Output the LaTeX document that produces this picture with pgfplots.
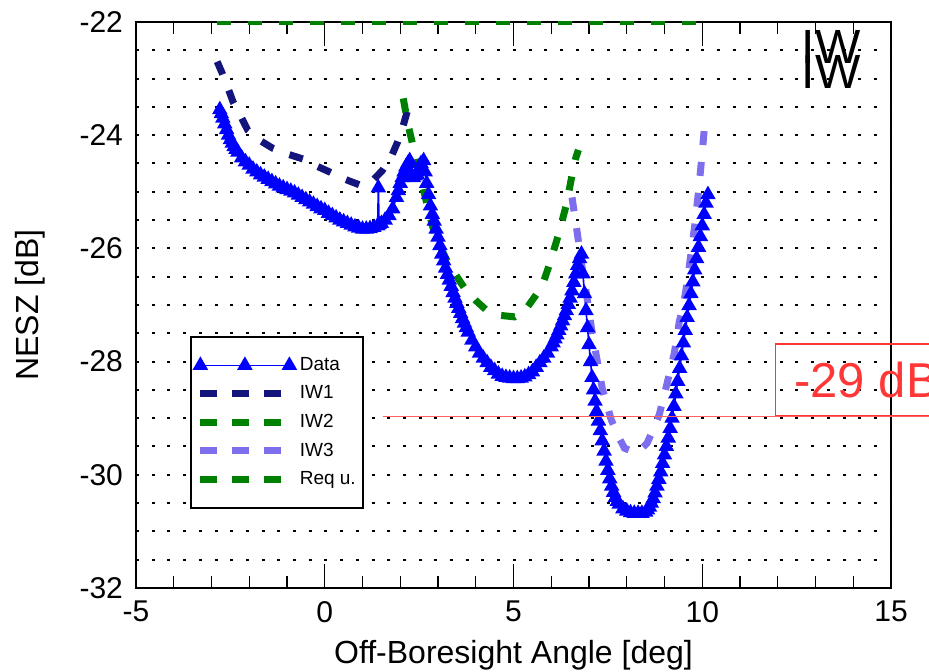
\documentclass[border=0pt]{standalone}
\usepackage{fontspec}
\setmainfont{Liberation Sans}
\usepackage{pgfplots}
\pgfplotsset{compat=1.18}

\definecolor{datablue}{RGB}{0,0,255}
\definecolor{iwone}{RGB}{20,20,125}
\definecolor{iwtwo}{RGB}{0,128,0}
\definecolor{iwthree}{RGB}{125,110,238}
\definecolor{annred}{RGB}{255,55,55}

\pgfplotsset{
  dashleg/.style={legend image code/.code={\draw[##1, dash pattern=on 8.5pt off 7.5pt] (0pt,0pt) -- (44.5pt,0pt);}},
  dataleg/.style={legend image code/.code={\draw[mark repeat=1,mark phase=1,##1] plot coordinates {(0pt,0pt) (22.25pt,0pt) (44.5pt,0pt)};}},
  thickdash/.style={line width=3.5pt, dash pattern=on 7pt off 8.5pt},
}

\begin{document}
\begin{tikzpicture}
\begin{axis}[
  scale only axis, width=377.5pt, height=283pt,
  xmin=-5, xmax=15, ymin=-32, ymax=-22,
  xtick={-5,0,5,10,15}, xticklabels={-5,0,5,10,15},
  minor x tick num=4,
  ytick={-32,-31.5,...,-22},
  yticklabels={-32,,,,-30,,,,-28,,,,-26,,,,-24,,,,-22},
  ytick style={draw=none},
  xtick pos=both, ytick pos=left,
  major tick length=12pt, minor tick length=6pt,
  every tick/.append style={black, line width=0.6pt},
  axis line style={line width=1.2pt},
  ymajorgrids,
  major grid style={black, line width=1pt, dash pattern=on 1.5pt off 6.35pt},
  tick label style={font=\fontsize{15}{15}\selectfont},
  yticklabel style={xshift=-3pt},
  xticklabel style={yshift=-3pt},
  xlabel={Off-Boresight Angle [deg]},
  ylabel={NESZ [dB]},
  label style={font=\fontsize{16}{16}\selectfont},
  xlabel style={at={(axis description cs:0.5,-0.118)}, anchor=center},
  ylabel style={at={(axis description cs:-0.1404,0.5)}, anchor=center},
  legend style={at={(axis cs:-3.57,-27.55)}, anchor=north west,
    draw=black, line width=1pt, inner xsep=1.5pt, inner ysep=7pt,
    font=\fontsize{9.5}{9.5}\selectfont,
    nodes={minimum height=14.25pt}},
  legend cell align=left,
]
\addplot[datablue, line width=0.8pt, mark=triangle*, mark size=3.7pt,
  mark options={solid, fill=datablue}, dataleg]
coordinates {
(-2.78,-23.55) (-2.74,-23.62) (-2.70,-23.70) (-2.65,-23.80) (-2.60,-23.90)
(-2.55,-24.00) (-2.50,-24.08) (-2.45,-24.14) (-2.40,-24.20) (-2.35,-24.25)
(-2.30,-24.30) (-2.20,-24.40) (-2.10,-24.47) (-2.00,-24.53) (-1.90,-24.60)
(-1.80,-24.65) (-1.70,-24.70) (-1.60,-24.74) (-1.50,-24.78) (-1.40,-24.82)
(-1.30,-24.86) (-1.20,-24.90) (-1.10,-24.93) (-1.00,-24.96) (-0.90,-24.99)
(-0.80,-25.02) (-0.70,-25.06) (-0.60,-25.10) (-0.50,-25.14) (-0.40,-25.18)
(-0.30,-25.22) (-0.20,-25.26) (-0.10,-25.30) (0.00,-25.33) (0.10,-25.38)
(0.20,-25.42) (0.30,-25.46) (0.40,-25.50) (0.50,-25.53) (0.60,-25.56)
(0.70,-25.59) (0.80,-25.62) (0.90,-25.64) (1.00,-25.66) (1.10,-25.66)
(1.20,-25.65) (1.30,-25.63) (1.40,-25.60) (1.42,-24.93) (1.44,-25.58)
(1.50,-25.56) (1.60,-25.50) (1.70,-25.42) (1.80,-25.30) (1.90,-25.10)
(1.95,-24.98) (2.00,-24.85) (2.05,-24.75) (2.10,-24.65) (2.15,-24.56)
(2.20,-24.50) (2.25,-24.45) (2.30,-24.70) (2.35,-24.75) (2.40,-24.72)
(2.45,-24.70) (2.50,-24.60) (2.55,-24.50) (2.62,-24.45) (2.66,-24.65)
(2.70,-24.85) (2.75,-25.05) (2.80,-25.25) (2.85,-25.40) (2.90,-25.52)
(2.95,-25.66) (3.00,-25.80) (3.05,-25.95) (3.10,-26.10) (3.15,-26.22)
(3.20,-26.35) (3.25,-26.46) (3.30,-26.56) (3.35,-26.67) (3.40,-26.78)
(3.45,-26.88) (3.50,-26.97) (3.55,-27.06) (3.60,-27.15) (3.65,-27.24)
(3.70,-27.32) (3.75,-27.40) (3.80,-27.48) (3.90,-27.62) (4.00,-27.74)
(4.10,-27.85) (4.20,-27.94) (4.30,-28.02) (4.40,-28.10) (4.50,-28.16)
(4.60,-28.22) (4.70,-28.26) (4.80,-28.28) (4.90,-28.29) (5.00,-28.30)
(5.10,-28.30) (5.20,-28.29) (5.30,-28.27) (5.40,-28.23) (5.50,-28.18)
(5.60,-28.10) (5.70,-28.02) (5.80,-27.94) (5.90,-27.85) (6.00,-27.74)
(6.05,-27.67) (6.10,-27.60) (6.15,-27.53) (6.20,-27.45) (6.25,-27.37)
(6.30,-27.28) (6.35,-27.19) (6.40,-27.10) (6.45,-26.99) (6.50,-26.88)
(6.55,-26.75) (6.60,-26.60) (6.65,-26.45) (6.70,-26.30) (6.75,-26.18)
(6.80,-26.10) (6.84,-26.45) (6.88,-26.80) (6.92,-27.10) (6.96,-27.40)
(7.00,-27.70) (7.04,-28.00) (7.08,-28.28) (7.12,-28.50) (7.16,-28.70)
(7.20,-28.88) (7.25,-29.05) (7.30,-29.22) (7.35,-29.40) (7.40,-29.58)
(7.45,-29.76) (7.50,-29.92) (7.55,-30.07) (7.60,-30.20) (7.65,-30.31)
(7.70,-30.40) (7.75,-30.47) (7.80,-30.52) (7.90,-30.60) (8.00,-30.64)
(8.10,-30.67) (8.20,-30.68) (8.30,-30.68) (8.40,-30.68) (8.50,-30.66)
(8.55,-30.62) (8.60,-30.57) (8.65,-30.50) (8.70,-30.42) (8.75,-30.32)
(8.80,-30.20) (8.85,-30.08) (8.90,-29.95) (8.95,-29.80) (9.00,-29.65)
(9.05,-29.50) (9.10,-29.35) (9.15,-29.18) (9.20,-29.00) (9.25,-28.79)
(9.30,-28.57) (9.35,-28.35) (9.40,-28.12) (9.45,-27.90) (9.50,-27.67)
(9.55,-27.45) (9.60,-27.22) (9.65,-27.01) (9.70,-26.80) (9.75,-26.59)
(9.80,-26.38) (9.85,-26.18) (9.90,-25.98) (9.95,-25.79) (10.00,-25.60)
(10.05,-25.40) (10.10,-25.20) (10.15,-25.05)
};
\addlegendentry{Data}

\addplot[iwone, thickdash, dashleg] coordinates {
(-2.85,-22.70) (-2.72,-22.90) (-2.60,-23.10) (-2.43,-23.41) (-2.20,-23.70)
(-2.04,-23.91) (-1.70,-24.10) (-1.38,-24.23) (-1.00,-24.33) (-0.58,-24.42)
(-0.20,-24.55) (0.13,-24.65) (0.50,-24.77) (0.93,-24.88) (1.20,-24.85)
(1.53,-24.62) (1.75,-24.40) (1.93,-24.12) (2.07,-23.85) (2.22,-23.50)
};
\addlegendentry{IW1}

\addplot[iwtwo, thickdash, dashleg] coordinates {
(2.08,-23.35) (2.20,-23.80) (2.30,-24.08) (2.40,-24.40) (2.51,-24.67)
(2.70,-25.20) (2.86,-25.62) (3.05,-25.95) (3.25,-26.24) (3.50,-26.50)
(3.70,-26.70) (4.00,-26.92) (4.28,-27.09) (4.60,-27.18) (5.03,-27.21)
(5.30,-27.10) (5.60,-26.82) (5.80,-26.58) (5.95,-26.29) (6.19,-25.76)
(6.40,-25.23) (6.56,-24.67) (6.65,-24.40) (6.72,-24.26)
};
\addlegendentry{IW2}

\addplot[iwthree, thickdash, dashleg] coordinates {
(6.55,-25.10) (6.69,-25.73) (6.80,-26.26) (6.93,-26.79) (7.06,-27.39)
(7.20,-27.92) (7.35,-28.47) (7.59,-29.03) (7.80,-29.35) (7.94,-29.53)
(8.20,-29.60) (8.30,-29.60) (8.54,-29.44) (8.70,-29.20) (8.86,-28.94)
(9.07,-28.38) (9.26,-27.85) (9.39,-27.30) (9.50,-27.00) (9.60,-26.60)
(9.70,-26.10) (9.80,-25.60) (9.90,-25.00) (10.00,-24.30) (10.06,-23.85)
};
\addlegendentry{IW3}

\addplot[iwtwo, thickdash, dashleg] coordinates {
(-2.85,-22) (10.15,-22)
};
\addlegendentry{Req u.}

\node[font=\fontsize{24}{24}\selectfont, inner sep=0pt] at (axis cs:13.41,-22.44) {IW};
\node[font=\fontsize{24}{24}\selectfont, inner sep=0pt] at (axis cs:13.41,-22.88) {IW};

\coordinate (BL) at (rel axis cs:0,0);
\coordinate (TR) at (rel axis cs:1,1);
\coordinate (boxA) at (axis cs:11.93,-27.69);
\coordinate (boxB) at (axis cs:17,-28.96);
\coordinate (lineA) at (axis cs:1.53,-28.97);
\coordinate (lineB) at (axis cs:17,-28.97);
\coordinate (txt) at (axis cs:12.43,-28.64);
\end{axis}
\draw[annred, line width=0.6pt] (boxA) rectangle (boxB);
\draw[annred!80, line width=0.7pt] (lineA) -- (lineB);
\node[annred, anchor=base west, inner sep=0pt, font=\fontsize{24.5}{24.5}\selectfont] at (txt) {-29 dB};
\pgfresetboundingbox
\path ([shift={(-68pt,-42pt)}]BL) rectangle ([shift={(19pt,11pt)}]TR);
\end{tikzpicture}
\end{document}
